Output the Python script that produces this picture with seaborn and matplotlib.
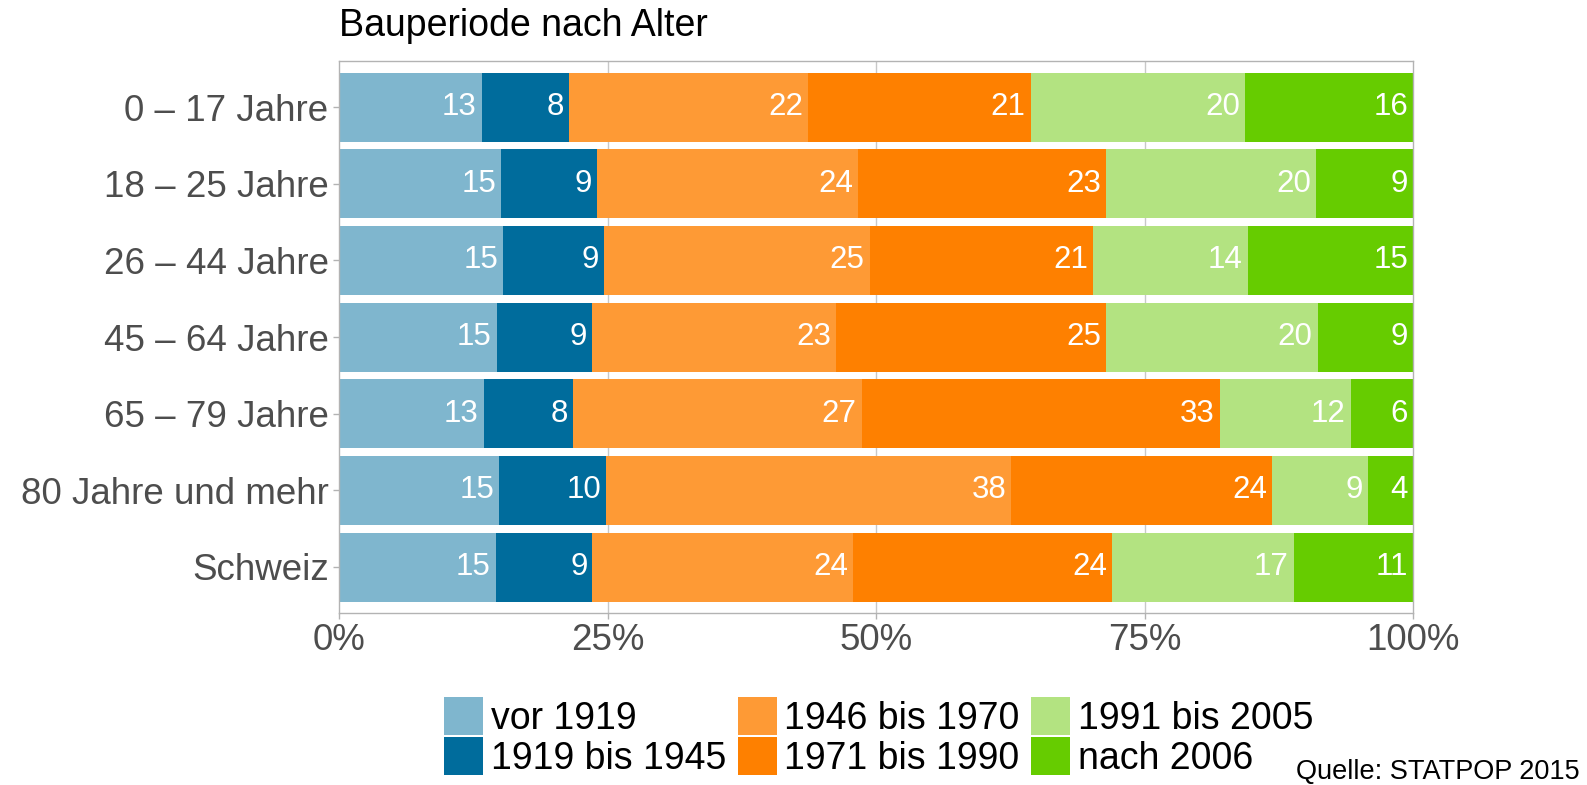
"""
Bauperiode nach Alter - stacked horizontal bars (STATPOP 2015)
"""
import numpy as np
import pandas as pd
import seaborn as sns
import matplotlib
matplotlib.use("Agg")
import matplotlib.pyplot as plt
from matplotlib.patches import Patch

# Data (percent shares per age group)
groups = ["0 – 17 Jahre", "18 – 25 Jahre", "26 – 44 Jahre", "45 – 64 Jahre",
          "65 – 79 Jahre", "80 Jahre und mehr", "Schweiz"]
periods = ["vor 1919", "1919 bis 1945", "1946 bis 1970",
           "1971 bis 1990", "1991 bis 2005", "nach 2006"]
vor_1919 = [13.3, 15.1, 15.3, 14.7, 13.5, 14.9, 14.6]
p1919_1945 = [8.1, 8.9, 9.4, 8.9, 8.3, 10.0, 9.0]
p1946_1970 = [22.3, 24.4, 24.7, 22.7, 26.9, 37.7, 24.3]
p1971_1990 = [20.7, 23.1, 20.8, 25.2, 33.4, 24.3, 24.1]
p1991_2005 = [20.0, 19.6, 14.4, 19.7, 12.2, 8.9, 16.9]
nach_2006 = [15.6, 9.0, 15.4, 8.9, 5.8, 4.2, 11.1]
colors = ["#7fb6ce", "#006c9c", "#fe9a35", "#fe8000", "#b3e381", "#66cc00"]

df = pd.DataFrame({"group": groups})
for name, vals in zip(periods, [vor_1919, p1919_1945, p1946_1970,
                                p1971_1990, p1991_2005, nach_2006]):
    df[name] = vals
# normalise rows to 100%
df[periods] = df[periods].div(df[periods].sum(axis=1), axis=0) * 100
cum = df[periods].cumsum(axis=1)

plt.rcParams["font.family"] = ["Liberation Sans", "DejaVu Sans"]
fig = plt.figure(figsize=(15.87, 7.85), dpi=100)
ax = fig.add_axes([339 / 1587, 1 - 613 / 785, (1413 - 339) / 1587, (613 - 61) / 785])

# grid behind the bars
for xv in [25, 50, 75]:
    ax.axvline(xv, color="#c8c8c8", lw=1.0, zorder=0)

# stacked bars: draw cumulative totals from the last period backwards
for i in range(len(periods) - 1, -1, -1):
    sns.barplot(x=cum[periods[i]], y=df["group"], orient="h", color=colors[i],
                width=0.9, saturation=1, ax=ax, zorder=2, linewidth=0)

# value labels
for i, p in enumerate(periods):
    for j in range(len(groups)):
        ax.annotate(f"{df.loc[j, p]:.0f}", xy=(cum.loc[j, p], j),
                    xytext=(-5, 0), textcoords="offset pixels",
                    ha="right", va="center", color="white", fontsize=22.5, zorder=3)

ax.set_xlim(0, 100)
ax.set_ylim(len(groups) - 0.4, -0.6)
ax.set_xticks([0, 25, 50, 75, 100])
ax.set_xticklabels(["0%", "25%", "50%", "75%", "100%"])
ax.set_xlabel("")
ax.set_ylabel("")
ax.tick_params(axis="both", colors="#b3b3b3", labelcolor="#4d4d4d",
               labelsize=26.5, length=4, width=1)
ax.tick_params(axis="x", pad=3)
for s in ax.spines.values():
    s.set_color("#b3b3b3")
    s.set_linewidth(1.0)
ax.set_facecolor("white")

fig.text(339 / 1587, 1 - 36 / 785, "Bauperiode nach Alter", fontsize=27,
         color="black", ha="left", va="baseline")

handles = [Patch(facecolor=c, edgecolor="none") for c in colors]
fig.legend(handles, periods, ncol=3, loc="upper left",
           bbox_to_anchor=(444 / 1587, 1 - 697 / 785), frameon=False,
           fontsize=27, handlelength=1.05, handleheight=1.2,
           handletextpad=0.2, columnspacing=0.3, labelspacing=0.0,
           borderpad=0, borderaxespad=0)

fig.text(1580 / 1587, 1 - 772 / 785, "Quelle: STATPOP 2015", fontsize=19.5,
         ha="right", va="center", color="black")

fig.savefig("out.png", dpi=100)
